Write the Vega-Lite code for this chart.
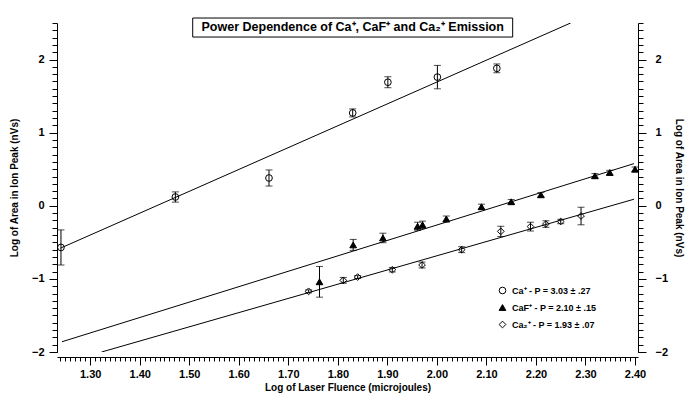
{
  "$schema": "https://vega.github.io/schema/vega-lite/v6.json",
  "width": 581,
  "height": 329,
  "autosize": "none",
  "padding": {"left": 57, "top": 23, "right": 47, "bottom": 45},
  "background": "white",
  "config": {
    "view": {"stroke": null},
    "font": "Liberation Sans",
    "axis": {
      "domainColor": "black",
      "tickColor": "black",
      "labelColor": "black",
      "titleColor": "black",
      "grid": false,
      "labelFont": "Liberation Sans",
      "labelFontSize": 11,
      "labelFontWeight": "bold",
      "titleFont": "Liberation Sans",
      "titleFontSize": 10,
      "titleFontWeight": "bold",
      "domainWidth": 1,
      "tickWidth": 1
    },
    "legend": {
      "orient": "none",
      "legendX": 441,
      "legendY": 263,
      "padding": 0,
      "rowPadding": 6,
      "labelOffset": 5,
      "labelFont": "Liberation Sans",
      "labelFontSize": 9,
      "labelFontWeight": "bold",
      "labelColor": "black",
      "symbolStrokeWidth": 1
    }
  },
  "datasets": {
    "pts": [
      {"series": "Ca⁺ - P = 3.03 ± .27", "x": 1.241, "y": -0.57, "lo": -0.81, "hi": -0.33},
      {"series": "Ca⁺ - P = 3.03 ± .27", "x": 1.472, "y": 0.12, "lo": 0.05, "hi": 0.19},
      {"series": "Ca⁺ - P = 3.03 ± .27", "x": 1.661, "y": 0.38, "lo": 0.27, "hi": 0.49},
      {"series": "Ca⁺ - P = 3.03 ± .27", "x": 1.830, "y": 1.27, "lo": 1.215, "hi": 1.325},
      {"series": "Ca⁺ - P = 3.03 ± .27", "x": 1.901, "y": 1.69, "lo": 1.615, "hi": 1.765},
      {"series": "Ca⁺ - P = 3.03 ± .27", "x": 2.001, "y": 1.76, "lo": 1.60, "hi": 1.92},
      {"series": "Ca⁺ - P = 3.03 ± .27", "x": 2.121, "y": 1.88, "lo": 1.82, "hi": 1.94},
      {"series": "CaF⁺ - P = 2.10 ± .15", "x": 1.763, "y": -1.04, "lo": -1.25, "hi": -0.83},
      {"series": "CaF⁺ - P = 2.10 ± .15", "x": 1.831, "y": -0.535, "lo": -0.61, "hi": -0.46},
      {"series": "CaF⁺ - P = 2.10 ± .15", "x": 1.891, "y": -0.44, "lo": -0.505, "hi": -0.375},
      {"series": "CaF⁺ - P = 2.10 ± .15", "x": 1.961, "y": -0.28, "lo": -0.335, "hi": -0.225},
      {"series": "CaF⁺ - P = 2.10 ± .15", "x": 1.971, "y": -0.26, "lo": -0.31, "hi": -0.21},
      {"series": "CaF⁺ - P = 2.10 ± .15", "x": 2.019, "y": -0.18, "lo": -0.22, "hi": -0.14},
      {"series": "CaF⁺ - P = 2.10 ± .15", "x": 2.090, "y": -0.013, "lo": -0.048, "hi": 0.022},
      {"series": "CaF⁺ - P = 2.10 ± .15", "x": 2.150, "y": 0.055, "lo": 0.025, "hi": 0.085},
      {"series": "CaF⁺ - P = 2.10 ± .15", "x": 2.210, "y": 0.15, "lo": 0.12, "hi": 0.18},
      {"series": "CaF⁺ - P = 2.10 ± .15", "x": 2.319, "y": 0.41, "lo": 0.38, "hi": 0.44},
      {"series": "CaF⁺ - P = 2.10 ± .15", "x": 2.349, "y": 0.455, "lo": 0.425, "hi": 0.485},
      {"series": "CaF⁺ - P = 2.10 ± .15", "x": 2.400, "y": 0.50, "lo": 0.47, "hi": 0.53},
      {"series": "Ca₂⁺ - P = 1.93 ± .07", "x": 1.741, "y": -1.17, "lo": -1.19, "hi": -1.15},
      {"series": "Ca₂⁺ - P = 1.93 ± .07", "x": 1.811, "y": -1.02, "lo": -1.06, "hi": -0.98},
      {"series": "Ca₂⁺ - P = 1.93 ± .07", "x": 1.840, "y": -0.975, "lo": -0.995, "hi": -0.955},
      {"series": "Ca₂⁺ - P = 1.93 ± .07", "x": 1.910, "y": -0.875, "lo": -0.905, "hi": -0.845},
      {"series": "Ca₂⁺ - P = 1.93 ± .07", "x": 1.970, "y": -0.81, "lo": -0.85, "hi": -0.77},
      {"series": "Ca₂⁺ - P = 1.93 ± .07", "x": 2.050, "y": -0.60, "lo": -0.64, "hi": -0.56},
      {"series": "Ca₂⁺ - P = 1.93 ± .07", "x": 2.129, "y": -0.35, "lo": -0.42, "hi": -0.28},
      {"series": "Ca₂⁺ - P = 1.93 ± .07", "x": 2.189, "y": -0.285, "lo": -0.345, "hi": -0.225},
      {"series": "Ca₂⁺ - P = 1.93 ± .07", "x": 2.220, "y": -0.25, "lo": -0.295, "hi": -0.205},
      {"series": "Ca₂⁺ - P = 1.93 ± .07", "x": 2.250, "y": -0.215, "lo": -0.245, "hi": -0.185},
      {"series": "Ca₂⁺ - P = 1.93 ± .07", "x": 2.291, "y": -0.14, "lo": -0.26, "hi": -0.02}
    ],
    "fits": [
      {"series": "Ca+", "x": 1.24, "y": -0.58},
      {"series": "Ca+", "x": 2.27, "y": 2.5},
      {"series": "CaF+", "x": 1.243, "y": -1.86},
      {"series": "CaF+", "x": 2.398, "y": 0.577},
      {"series": "Ca2+", "x": 1.323, "y": -2.0},
      {"series": "Ca2+", "x": 2.398, "y": 0.09}
    ],
    "titlebox": [
      {"x1": 1.507, "x2": 2.153, "y1": 2.308, "y2": 2.568, "xc": 1.830, "yc": 2.439, "label": "Power Dependence of Ca⁺, CaF⁺ and Ca₂⁺ Emission"}
    ]
  },
  "resolve": {"axis": {"x": "independent", "y": "independent"}},
  "layer": [
    {
      "data": {"name": "fits"},
      "mark": {"type": "line", "color": "black", "strokeWidth": 1, "clip": true},
      "encoding": {
        "x": {"field": "x", "type": "quantitative", "scale": {"domain": [1.233, 2.406], "nice": false, "zero": false},
          "axis": {"orient": "bottom", "offset": 5, "values": [1.3, 1.4, 1.5, 1.6, 1.7, 1.8, 1.9, 2.0, 2.1, 2.2, 2.3, 2.4], "format": ".2f", "tickSize": 8, "labelPadding": 3, "title": "Log of Laser Fluence (microjoules)", "titlePadding": 3}},
        "y": {"field": "y", "type": "quantitative", "scale": {"domain": [-2, 2.5], "nice": false, "zero": false},
          "axis": {"orient": "left", "values": [-2, -1, 0, 1, 2], "tickSize": 8, "labelPadding": 5, "title": "Log of Area in Ion Peak (nVs)", "titlePadding": 12}},
        "detail": {"field": "series"}
      }
    },
    {
      "data": {"name": "pts"},
      "mark": {"type": "rule", "color": "black", "strokeWidth": 1},
      "encoding": {
        "x": {"field": "x", "type": "quantitative", "scale": {"domain": [1.233, 2.406], "nice": false, "zero": false},
          "axis": {"orient": "bottom", "offset": 5, "values": [1.24,1.25,1.26,1.27,1.28,1.29,1.30,1.31,1.32,1.33,1.34,1.35,1.36,1.37,1.38,1.39,1.40,1.41,1.42,1.43,1.44,1.45,1.46,1.47,1.48,1.49,1.50,1.51,1.52,1.53,1.54,1.55,1.56,1.57,1.58,1.59,1.60,1.61,1.62,1.63,1.64,1.65,1.66,1.67,1.68,1.69,1.70,1.71,1.72,1.73,1.74,1.75,1.76,1.77,1.78,1.79,1.80,1.81,1.82,1.83,1.84,1.85,1.86,1.87,1.88,1.89,1.90,1.91,1.92,1.93,1.94,1.95,1.96,1.97,1.98,1.99,2.00,2.01,2.02,2.03,2.04,2.05,2.06,2.07,2.08,2.09,2.10,2.11,2.12,2.13,2.14,2.15,2.16,2.17,2.18,2.19,2.20,2.21,2.22,2.23,2.24,2.25,2.26,2.27,2.28,2.29,2.30,2.31,2.32,2.33,2.34,2.35,2.36,2.37,2.38,2.39,2.40], "tickSize": 4, "labels": false, "domain": false, "title": null}},
        "y": {"field": "lo", "type": "quantitative", "scale": {"domain": [-2, 2.5], "nice": false, "zero": false},
          "axis": {"orient": "left", "values": [-2,-1.9,-1.8,-1.7,-1.6,-1.5,-1.4,-1.3,-1.2,-1.1,-1,-0.9,-0.8,-0.7,-0.6,-0.5,-0.4,-0.3,-0.2,-0.1,0,0.1,0.2,0.3,0.4,0.5,0.6,0.7,0.8,0.9,1,1.1,1.2,1.3,1.4,1.5,1.6,1.7,1.8,1.9,2,2.1,2.2,2.3,2.4,2.5], "tickSize": 5, "labels": false, "domain": false, "title": null}},
        "y2": {"field": "hi"}
      }
    },
    {
      "data": {"name": "pts"},
      "mark": {"type": "tick", "orient": "horizontal", "color": "black", "size": 7, "thickness": 1},
      "encoding": {
        "x": {"field": "x", "type": "quantitative", "scale": {"domain": [1.233, 2.406], "nice": false, "zero": false}, "axis": null},
        "y": {"field": "lo", "type": "quantitative", "scale": {"domain": [-2, 2.5], "nice": false, "zero": false},
          "axis": {"orient": "right", "values": [-2, -1, 0, 1, 2], "tickSize": 8, "labelPadding": 9, "title": "Log of Area in Ion Peak (nVs)", "titlePadding": 6, "titleAngle": 90}}
      }
    },
    {
      "data": {"name": "pts"},
      "mark": {"type": "tick", "orient": "horizontal", "color": "black", "size": 7, "thickness": 1},
      "encoding": {
        "x": {"field": "x", "type": "quantitative", "scale": {"domain": [1.233, 2.406], "nice": false, "zero": false}, "axis": null},
        "y": {"field": "hi", "type": "quantitative", "scale": {"domain": [-2, 2.5], "nice": false, "zero": false},
          "axis": {"orient": "right", "values": [-2,-1.9,-1.8,-1.7,-1.6,-1.5,-1.4,-1.3,-1.2,-1.1,-1,-0.9,-0.8,-0.7,-0.6,-0.5,-0.4,-0.3,-0.2,-0.1,0,0.1,0.2,0.3,0.4,0.5,0.6,0.7,0.8,0.9,1,1.1,1.2,1.3,1.4,1.5,1.6,1.7,1.8,1.9,2,2.1,2.2,2.3,2.4,2.5], "tickSize": 5, "labels": false, "domain": false, "title": null}}
      }
    },
    {
      "data": {"name": "pts"},
      "mark": {"type": "point", "strokeWidth": 1, "opacity": 1, "filled": false},
      "encoding": {
        "x": {"field": "x", "type": "quantitative", "scale": {"domain": [1.233, 2.406], "nice": false, "zero": false}, "axis": null},
        "y": {"field": "y", "type": "quantitative", "scale": {"domain": [-2, 2.5], "nice": false, "zero": false}, "axis": null},
        "shape": {"field": "series", "type": "nominal",
          "scale": {"domain": ["Ca⁺ - P = 3.03 ± .27", "CaF⁺ - P = 2.10 ± .15", "Ca₂⁺ - P = 1.93 ± .07"], "range": ["circle", "triangle-up", "diamond"]},
          "legend": {"title": null}},
        "fill": {"field": "series", "type": "nominal",
          "scale": {"domain": ["Ca⁺ - P = 3.03 ± .27", "CaF⁺ - P = 2.10 ± .15", "Ca₂⁺ - P = 1.93 ± .07"], "range": ["transparent", "black", "transparent"]},
          "legend": {"title": null}},
        "stroke": {"field": "series", "type": "nominal",
          "scale": {"domain": ["Ca⁺ - P = 3.03 ± .27", "CaF⁺ - P = 2.10 ± .15", "Ca₂⁺ - P = 1.93 ± .07"], "range": ["black", "black", "black"]},
          "legend": {"title": null}},
        "size": {"field": "series", "type": "nominal",
          "scale": {"domain": ["Ca⁺ - P = 3.03 ± .27", "CaF⁺ - P = 2.10 ± .15", "Ca₂⁺ - P = 1.93 ± .07"], "range": [45, 45, 18]},
          "legend": {"title": null}}
      }
    },
    {
      "data": {"name": "titlebox"},
      "mark": {"type": "rect", "fill": "white", "stroke": "black", "strokeWidth": 1, "clip": false},
      "encoding": {
        "x": {"field": "x1", "type": "quantitative", "scale": {"domain": [1.233, 2.406], "nice": false, "zero": false}, "axis": null},
        "x2": {"field": "x2"},
        "y": {"field": "y1", "type": "quantitative", "scale": {"domain": [-2, 2.5], "nice": false, "zero": false}, "axis": null},
        "y2": {"field": "y2"}
      }
    },
    {
      "data": {"name": "titlebox"},
      "mark": {"type": "text", "font": "Liberation Sans", "fontSize": 12.5, "fontWeight": "bold", "color": "black", "align": "center", "baseline": "middle", "clip": false},
      "encoding": {
        "x": {"field": "xc", "type": "quantitative", "scale": {"domain": [1.233, 2.406], "nice": false, "zero": false}, "axis": null},
        "y": {"field": "yc", "type": "quantitative", "scale": {"domain": [-2, 2.5], "nice": false, "zero": false}, "axis": null},
        "text": {"field": "label"}
      }
    }
  ]
}
